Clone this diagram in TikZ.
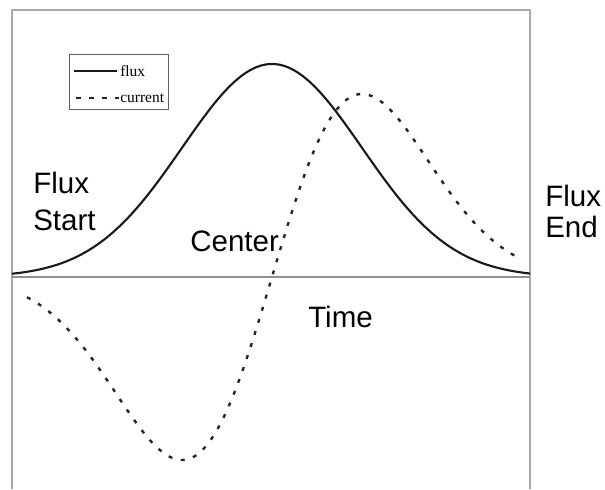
\documentclass[tikz,border=0pt]{standalone}
\usepackage{fontspec}
\setmainfont{Liberation Sans}
\newfontfamily\keyfont{Liberation Serif}
\usetikzlibrary{positioning}

\definecolor{framegray}{RGB}{165,170,175}
\definecolor{keygray}{RGB}{95,95,95}

\begin{document}
\begin{tikzpicture}[x={(0.025cm,0)}, y={(0,-0.025cm)},
    fluxline/.style={line width=1.5pt, black!90},
    currentline/.style={line width=1.7pt, black!85, dash pattern=on 2.8pt off 6.2pt},
    bigtext/.style={inner sep=0pt, font=\fontsize{21}{24}\selectfont, align=left},
    keytext/.style={inner sep=0pt, anchor=base west, font=\keyfont\fontsize{11}{12}\selectfont}]
  \useasboundingbox (0,0) rectangle (605,489);

  % frame and time axis
  \draw[framegray, line width=0.8pt] (12,489) -- (12,10) -- (530,10) -- (530,489);
  \coordinate (t0) at (12,277);
  \coordinate (t1) at (530,277);
  \draw[framegray!85!black, line width=0.8pt] (t0) -- (t1);

  % flux pulse and the current it induces
  \draw[fluxline] plot[domain=-2.889:2.867, samples=90, variable=\t, smooth]
    ({272+90*\t}, {277-213*exp(-0.5*\t*\t)});
  \draw[currentline] plot[domain=-2.722:2.722, samples=90, variable=\t, smooth]
    ({272+90*\t}, {277-301.7*\t*exp(-0.5*\t*\t)});

  % key
  \node[draw=keygray, line width=0.6pt, inner sep=0pt, minimum width=2.475cm,
        minimum height=1.375cm, anchor=north west] (key) at (69,54) {};
  \node[keytext] (kflux) at (120,76) {flux};
  \node[keytext] (kcur) at (120,102) {current};
  \draw[fluxline] (74,71) -- (117,71);
  \draw[black!85, line width=1.6pt, dash pattern=on 3.5pt off 5.7pt] (76,98) -- (119,98);

  % labels
  \node[bigtext, anchor=north west] (fstart) at (33,172) {Flux\\[2pt]Start};
  \node[bigtext, anchor=base west] (center) at (190,251) {Center};
  \node[bigtext, anchor=base west] (time) at (308,327) {Time};
  \node[bigtext, anchor=north west] (fend) at (545,185) {Flux\\[-2pt]End};
\end{tikzpicture}
\end{document}
